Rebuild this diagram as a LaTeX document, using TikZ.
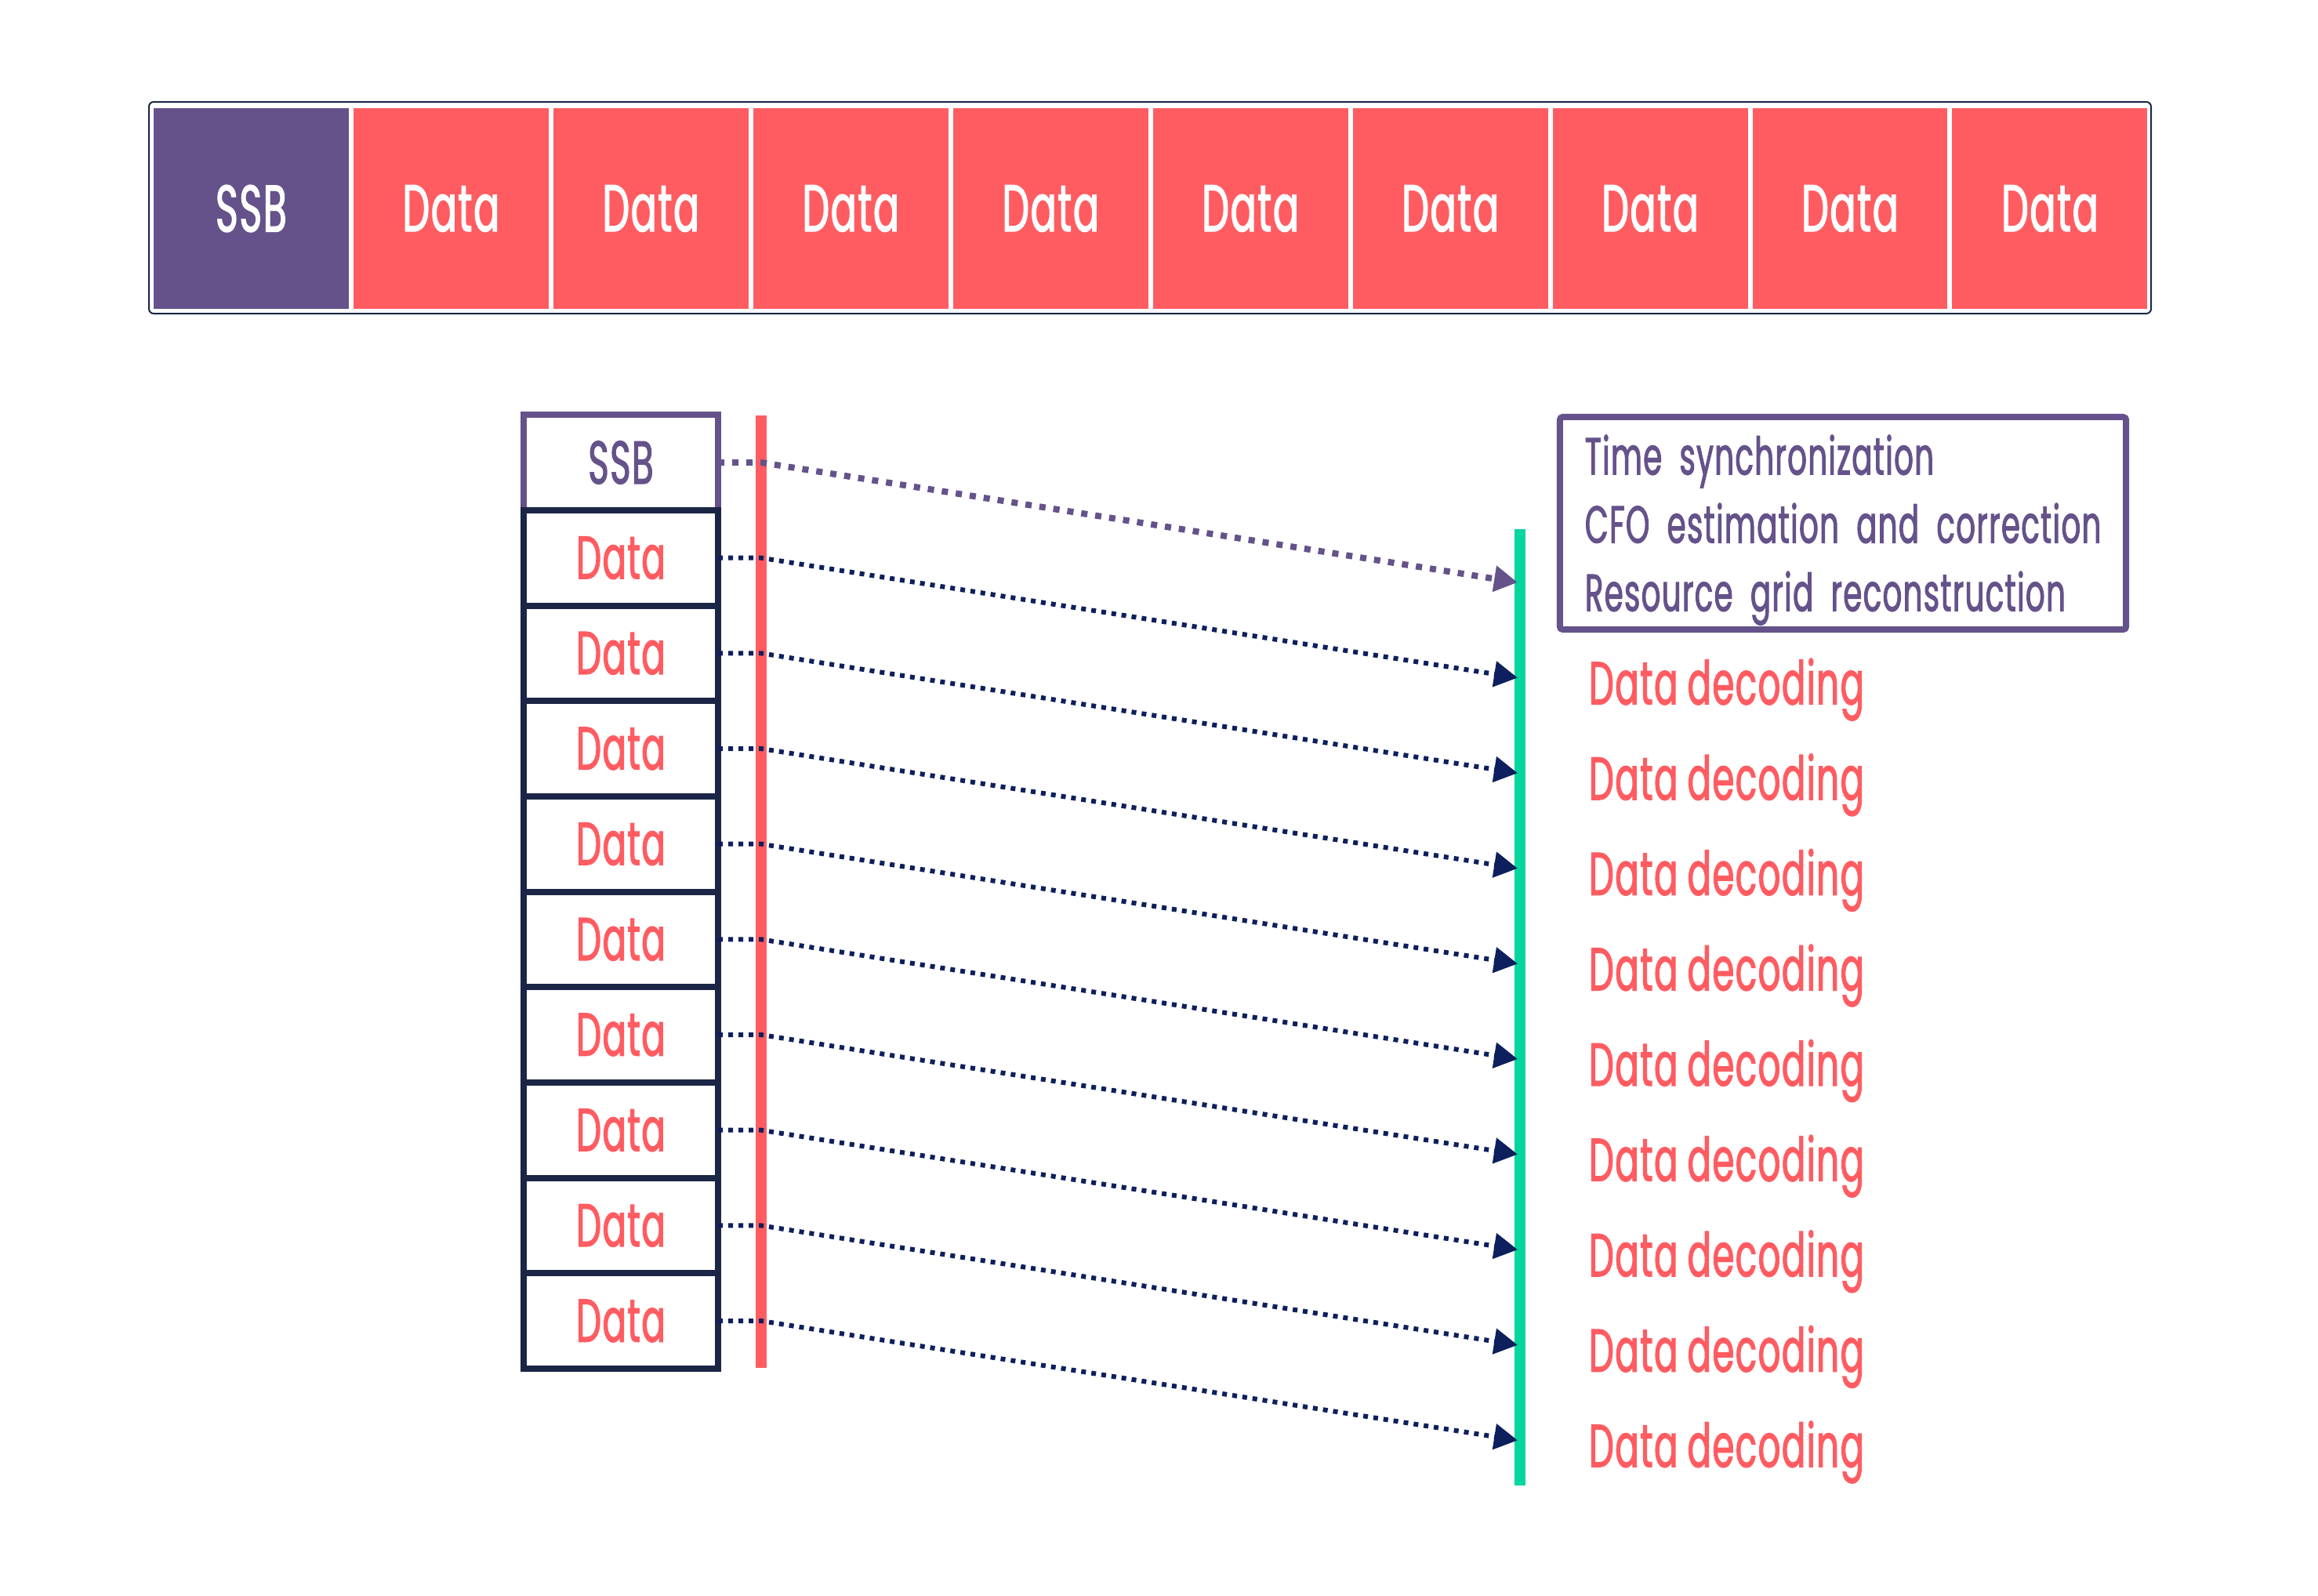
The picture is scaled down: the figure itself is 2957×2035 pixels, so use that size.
\documentclass[tikz,border=0pt]{standalone}
\usepackage{fontspec}
\setmainfont{Poppins}[FakeStretch=0.58, FakeBold=1.5, WordSpace=0.9, LetterSpace=2]
\usetikzlibrary{arrows.meta,positioning}

\definecolor{ssbpurple}{HTML}{65528A}
\definecolor{datared}{HTML}{FF5C62}
\definecolor{boxnavy}{HTML}{1B2646}
\definecolor{arrownavy}{HTML}{0D1F5C}
\definecolor{rxgreen}{HTML}{04D69E}

\begin{document}
\begin{tikzpicture}[x=0.01cm, y=0.01cm,
  every node/.style={inner sep=0pt, outer sep=0pt},
  topcell/.style={minimum width=2.488cm, minimum height=2.56cm, text=white,
    font=\fontsize{24pt}{28pt}\selectfont},
  ssbtopcell/.style={topcell, fill=ssbpurple},
  datatopcell/.style={topcell, fill=datared},
  slotbox/.style={draw, line width=0.08cm, minimum width=2.48cm, minimum height=1.216cm,
    font=\fontsize{22pt}{26pt}\selectfont},
  ssbslot/.style={slotbox, draw=ssbpurple, text=ssbpurple, fill=white},
  dataslot/.style={slotbox, draw=boxnavy, text=datared},
  dataarrow/.style={arrownavy, line width=0.06cm, dash pattern=on 0.06cm off 0.07cm,
    -{Triangle[length=0.3cm, width=0.32cm]}},
  ssbarrow/.style={ssbpurple, line width=0.08cm, dash pattern=on 0.08cm off 0.1cm,
    -{Triangle[length=0.3cm, width=0.32cm]}},
  declabel/.style={text=datared, font=\fontsize{22pt}{26pt}\selectfont}]
\useasboundingbox (0,0) rectangle (2957,-2035);

% frame received over the air
\draw [boxnavy, line width=0.02cm, rounded corners=0.06cm] (190,-130) rectangle (2744,-400);
\node [ssbtopcell] (ssbtop) at (320.4,-266) {SSB};
\node [datatopcell, right=0.06cm of ssbtop] (dt1) {Data};
\node [datatopcell, right=0.06cm of dt1] (dt2) {Data};
\node [datatopcell, right=0.06cm of dt2] (dt3) {Data};
\node [datatopcell, right=0.06cm of dt3] (dt4) {Data};
\node [datatopcell, right=0.06cm of dt4] (dt5) {Data};
\node [datatopcell, right=0.06cm of dt5] (dt6) {Data};
\node [datatopcell, right=0.06cm of dt6] (dt7) {Data};
\node [datatopcell, right=0.06cm of dt7] (dt8) {Data};
\node [datatopcell, right=0.06cm of dt8] (dt9) {Data};

% slots stacked in time
\node [ssbslot] (ssb) at (792,-590) {SSB};
\node [dataslot, below=0cm of ssb] (d1) {Data};
\node [dataslot, below=0cm of d1] (d2) {Data};
\node [dataslot, below=0cm of d2] (d3) {Data};
\node [dataslot, below=0cm of d3] (d4) {Data};
\node [dataslot, below=0cm of d4] (d5) {Data};
\node [dataslot, below=0cm of d5] (d6) {Data};
\node [dataslot, below=0cm of d6] (d7) {Data};
\node [dataslot, below=0cm of d7] (d8) {Data};
\node [dataslot, below=0cm of d8] (d9) {Data};

% transmitter and receiver time lines
\coordinate (rtop) at (971,-530);
\coordinate (rbot) at (971,-1745);
\coordinate (gtop) at (1939,-675);
\coordinate (gbot) at (1939,-1895);
\draw [datared, line width=0.14cm] (rtop) -- (rbot);
\draw [rxgreen, line width=0.14cm] (gtop) -- (gbot);

% arrival points
\coordinate (e0) at (1936,-743);
\coordinate (e1) at (1936,-864.6);
\coordinate (e2) at (1936,-986.2);
\coordinate (e3) at (1936,-1107.8);
\coordinate (e4) at (1936,-1229.4);
\coordinate (e5) at (1936,-1351);
\coordinate (e6) at (1936,-1472.6);
\coordinate (e7) at (1936,-1594.2);
\coordinate (e8) at (1936,-1715.8);
\coordinate (e9) at (1936,-1837.4);

\draw [ssbarrow] (ssb.east) -- (ssb.east -| rtop) -- (e0);
\draw [dataarrow] (d1.east) -- (d1.east -| rtop) -- (e1);
\draw [dataarrow] (d2.east) -- (d2.east -| rtop) -- (e2);
\draw [dataarrow] (d3.east) -- (d3.east -| rtop) -- (e3);
\draw [dataarrow] (d4.east) -- (d4.east -| rtop) -- (e4);
\draw [dataarrow] (d5.east) -- (d5.east -| rtop) -- (e5);
\draw [dataarrow] (d6.east) -- (d6.east -| rtop) -- (e6);
\draw [dataarrow] (d7.east) -- (d7.east -| rtop) -- (e7);
\draw [dataarrow] (d8.east) -- (d8.east -| rtop) -- (e8);
\draw [dataarrow] (d9.east) -- (d9.east -| rtop) -- (e9);

% what the receiver does
\node [draw=ssbpurple, line width=0.08cm, rounded corners=0.04cm, text=ssbpurple,
  minimum width=7.22cm, minimum height=2.71cm, text width=6.58cm, align=left,
  font=\fontsize{19pt}{0.87cm}\selectfont] (sync) at (2351,-667.5)
  {\rule{0pt}{0.68cm}Time synchronization\\CFO estimation and correction\\Resource grid reconstruction};
\node [declabel, right=0.91cm of e1, yshift=-0.15cm] (dec1) {Data decoding};
\node [declabel, right=0.91cm of e2, yshift=-0.15cm] (dec2) {Data decoding};
\node [declabel, right=0.91cm of e3, yshift=-0.15cm] (dec3) {Data decoding};
\node [declabel, right=0.91cm of e4, yshift=-0.15cm] (dec4) {Data decoding};
\node [declabel, right=0.91cm of e5, yshift=-0.15cm] (dec5) {Data decoding};
\node [declabel, right=0.91cm of e6, yshift=-0.15cm] (dec6) {Data decoding};
\node [declabel, right=0.91cm of e7, yshift=-0.15cm] (dec7) {Data decoding};
\node [declabel, right=0.91cm of e8, yshift=-0.15cm] (dec8) {Data decoding};
\node [declabel, right=0.91cm of e9, yshift=-0.15cm] (dec9) {Data decoding};
\end{tikzpicture}
\end{document}
